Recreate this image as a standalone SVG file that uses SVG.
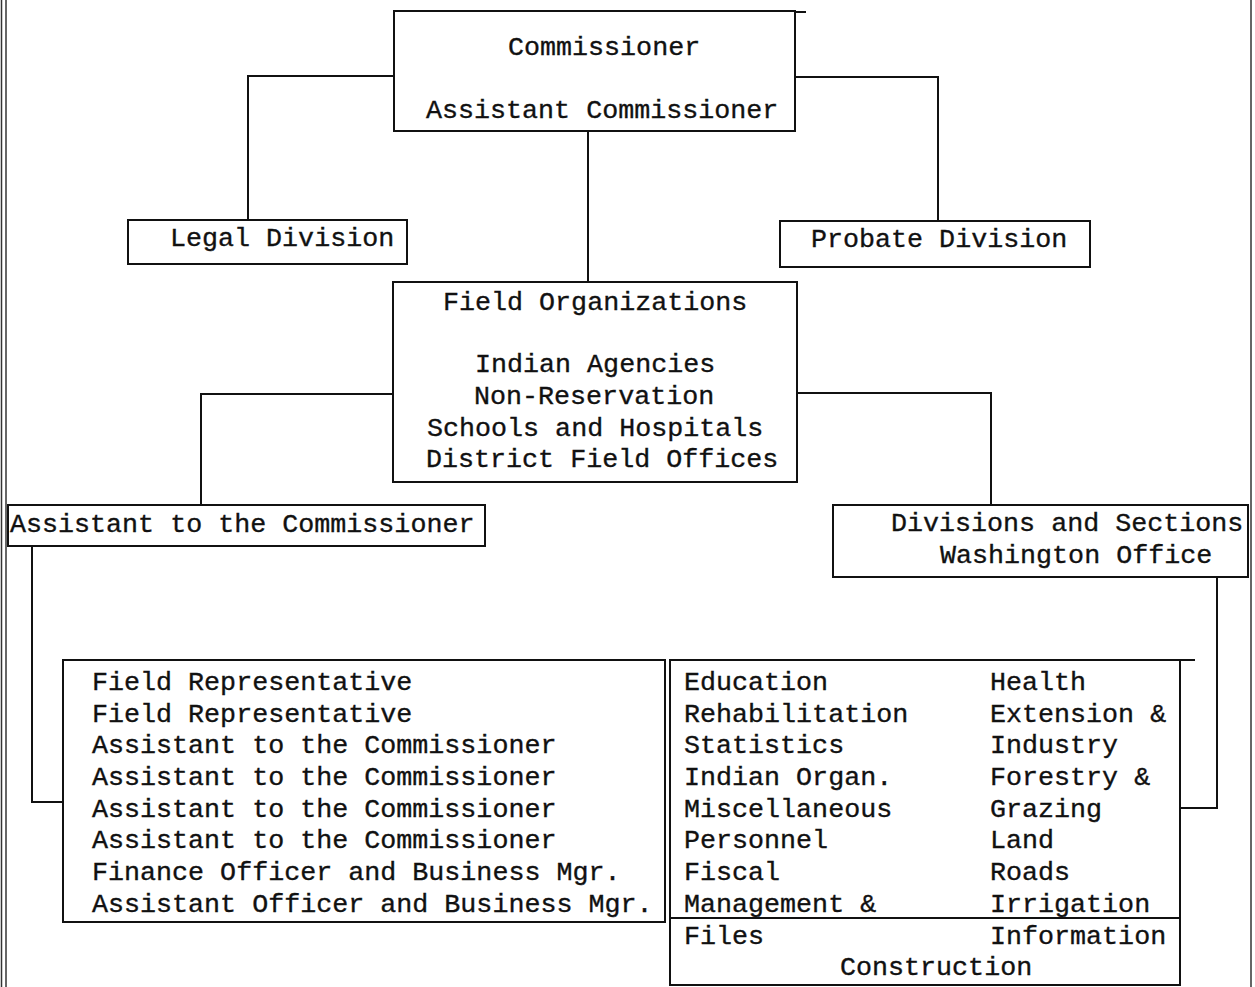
<svg xmlns="http://www.w3.org/2000/svg" width="1255" height="987" viewBox="0 0 1255 987">
<style>
.box{fill:none;stroke:#111;stroke-width:2}
.ln{fill:none;stroke:#111;stroke-width:2}
.pg{fill:none;stroke:#333;stroke-width:1.5}
text{font-family:"Liberation Mono","DejaVu Sans Mono",monospace;font-size:26.7px;fill:#111;stroke:#111;stroke-width:0.35}
</style>
<rect width="1255" height="987" fill="#fff"/>
<g id="page-border">
<line class="pg" x1="1.5" y1="0" x2="1.5" y2="987"/>
<line class="pg" x1="6" y1="0" x2="6" y2="987"/>
<line class="pg" x1="1251" y1="0" x2="1251" y2="987"/>
</g>
<g id="connectors">
<path class="ln" d="M394,76 H248 V220"/>
<path class="ln" d="M795,77 H938 V221"/>
<path class="ln" d="M588,131 V282"/>
<path class="ln" d="M393,394 H201 V505"/>
<path class="ln" d="M797,393 H991 V505"/>
<path class="ln" d="M32,546 V802 H63"/>
<path class="ln" d="M1217,577 V808 H1180"/>
</g>
<g id="commissioner">
<rect class="box" x="394" y="11" width="401" height="120"/>
<line class="ln" x1="795" y1="12" x2="806" y2="12"/>
<text x="508" y="55">Commissioner</text>
<text x="426" y="118">Assistant Commissioner</text>
</g>
<g id="legal-division">
<rect class="box" x="128" y="220" width="279" height="44"/>
<text x="170" y="246">Legal Division</text>
</g>
<g id="probate-division">
<rect class="box" x="780" y="221" width="310" height="46"/>
<text x="811" y="247">Probate Division</text>
</g>
<g id="field-organizations">
<rect class="box" x="393" y="282" width="404" height="200"/>
<text x="443" y="310">Field Organizations</text>
<text x="475" y="372">Indian Agencies</text>
<text x="474" y="404">Non-Reservation</text>
<text x="427" y="436">Schools and Hospitals</text>
<text x="426" y="467">District Field Offices</text>
</g>
<g id="assistant-to-commissioner">
<rect class="box" x="8" y="505" width="477" height="41"/>
<text x="10" y="532">Assistant to the Commissioner</text>
</g>
<g id="divisions-sections">
<rect class="box" x="833" y="505" width="415" height="72"/>
<text x="891" y="531">Divisions and Sections</text>
<text x="940" y="563">Washington Office</text>
</g>
<g id="field-staff-list">
<rect class="box" x="63" y="660" width="602" height="262"/>
<text x="92" y="690">Field Representative</text>
<text x="92" y="722">Field Representative</text>
<text x="92" y="753">Assistant to the Commissioner</text>
<text x="92" y="785">Assistant to the Commissioner</text>
<text x="92" y="817">Assistant to the Commissioner</text>
<text x="92" y="848">Assistant to the Commissioner</text>
<text x="92" y="880">Finance Officer and Business Mgr.</text>
<text x="92" y="912">Assistant Officer and Business Mgr.</text>
</g>
<g id="divisions-list">
<rect class="box" x="670" y="660" width="510" height="325"/>
<line class="ln" x1="1180" y1="660" x2="1195" y2="660"/>
<line class="ln" x1="670" y1="918" x2="1180" y2="918"/>
<text x="684" y="690">Education</text>
<text x="684" y="722">Rehabilitation</text>
<text x="684" y="753">Statistics</text>
<text x="684" y="785">Indian Organ.</text>
<text x="684" y="817">Miscellaneous</text>
<text x="684" y="848">Personnel</text>
<text x="684" y="880">Fiscal</text>
<text x="684" y="912">Management &amp;</text>
<text x="990" y="690">Health</text>
<text x="990" y="722">Extension &amp;</text>
<text x="990" y="753">Industry</text>
<text x="990" y="785">Forestry &amp;</text>
<text x="990" y="817">Grazing</text>
<text x="990" y="848">Land</text>
<text x="990" y="880">Roads</text>
<text x="990" y="912">Irrigation</text>
<text x="684" y="944">Files</text>
<text x="990" y="944">Information</text>
<text x="840" y="975">Construction</text>
</g>
</svg>
